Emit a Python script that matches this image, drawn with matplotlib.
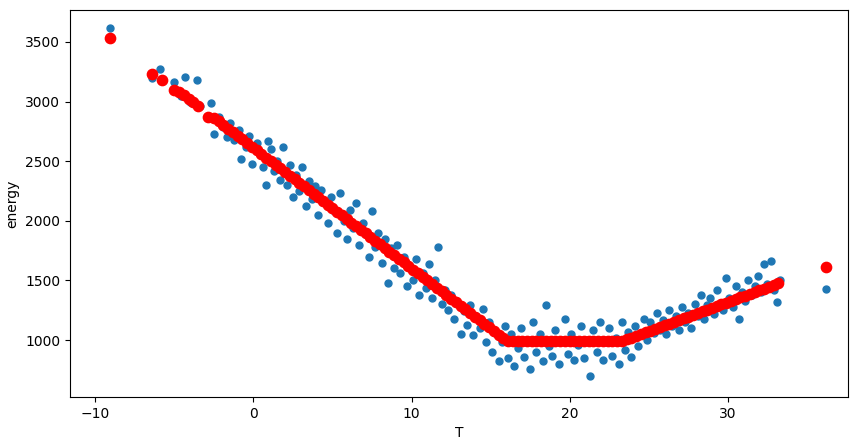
import matplotlib
matplotlib.use("Agg")
import matplotlib.pyplot as plt

blue_T = [-9.1,-6.4,-5.9,-5.8,-5.0,-4.6,-4.3,-4.0,-3.6,-3.4,
-2.7,-2.5,-2.2,-1.9,-1.7,-1.5,-1.2,-0.9,-0.8,-0.5,-0.3,-0.1,0.2,0.4,0.6,0.8,0.9,1.1,1.3,1.5,1.7,1.9,2.1,2.3,2.5,2.7,2.9,3.1,3.3,3.5,3.7,3.9,4.1,4.3,4.5,4.7,4.9,5.1,5.3,5.5,5.7,5.9,6.1,6.3,6.5,6.7,6.9,7.1,7.3,7.5,7.7,7.9,8.1,8.3,8.5,8.7,8.9,9.1,9.3,9.5,9.7,9.9,10.1,10.3,10.5,10.7,10.9,11.1,11.3,11.5,11.7,11.9,12.1,12.3,12.5,12.7,12.9,13.1,13.3,13.5,13.7,13.9,14.1,14.3,14.5,14.7,14.9,15.1,15.3,15.5,15.7,15.9,
16.1,16.3,16.5,16.7,16.9,17.1,17.3,17.5,17.7,17.9,18.1,18.3,18.5,18.7,18.9,19.1,19.3,19.5,19.7,19.9,20.1,20.3,20.5,20.7,20.9,21.1,21.3,21.5,21.7,21.9,22.1,22.3,22.5,22.7,22.9,23.1,23.3,23.5,23.7,23.9,
24.1,24.3,24.5,24.7,24.9,25.1,25.3,25.5,25.7,25.9,26.1,26.3,26.5,26.7,26.9,27.1,27.3,27.5,27.7,27.9,28.1,28.3,28.5,28.7,28.9,29.1,29.3,29.5,29.7,29.9,30.1,30.3,30.5,30.7,30.9,31.1,31.3,31.5,31.7,31.9,32.1,32.3,32.5,32.7,32.9,33.1,33.3,36.2]
blue_E = [3620,3200,3270,3180,3160,3050,3210,3000,3180,2960,
2990,2730,2870,2790,2700,2820,2680,2760,2520,2620,2710,2480,2650,2560,2450,2300,2670,2600,2420,2500,2340,2620,2300,2470,2200,2380,2250,2450,2120,2330,2180,2290,2050,2260,2150,1980,2200,2080,1900,2230,2000,1850,2090,1940,2150,1800,1980,1900,1700,2080,1780,1900,1650,1850,1480,1770,1600,1800,1560,1700,1450,1620,1500,1680,1380,1560,1440,1640,1350,1500,1780,1300,1420,1250,1380,1180,1320,1050,1240,1130,1290,1040,1200,1100,1260,980,1150,900,1060,820,980,1120,
850,1050,780,930,1100,860,1000,760,1150,900,1050,820,1290,950,870,1080,800,1000,1180,880,1050,830,960,1120,850,1000,700,1080,900,1150,830,980,1100,870,1020,800,1150,920,1070,860,
1120,950,1050,1180,1000,1150,1060,1230,1080,1170,1050,1250,1120,1200,1080,1280,1150,1230,1100,1300,1200,1380,1180,1290,1350,1220,1420,1300,1250,1520,1350,1280,1450,1180,1400,1330,1500,1380,1450,1540,1400,1640,1470,1660,1420,1320,1500,1430]

red_T = [-9.1,-6.4,-5.8,-5.0,-4.7,-4.4,-4.1,-3.8,-3.5,-2.9,-2.5,-2.2,-1.9,-1.6,-1.3,-1.0,-0.7,-0.4,-0.1,0.2,0.5,0.8,1.1,1.4,1.7,2.0,2.3,2.6,2.9,3.2,3.5,3.8,4.1,4.4,4.7,5.0,5.3,5.6,5.9,6.2,6.5,6.8,7.1,7.4,7.7,8.0,8.3,8.6,8.9,9.2,9.5,9.8,10.1,10.4,10.7,11.0,11.3,11.6,11.9,12.2,12.5,12.8,13.1,13.4,13.7,14.0,14.3,14.6,14.9,15.2,15.5,15.8,
16.1,16.4,16.7,17.0,17.3,17.6,17.9,18.2,18.5,18.8,19.1,19.4,19.7,20.0,20.3,20.6,20.9,21.2,21.5,21.8,22.1,22.4,22.7,23.0,23.3,
23.6,23.9,24.2,24.5,24.8,25.1,25.4,25.7,26.0,26.3,26.6,26.9,27.2,27.5,27.8,28.1,28.4,28.7,29.0,29.3,29.6,29.9,30.2,30.5,30.8,31.1,31.4,31.7,32.0,32.3,32.6,32.9,33.2,36.2]
red_E = [3530,3230,3180,3100,3080,3055,3025,2995,2965,2870,2864,2833,2803,2773,2742,2712,2682,2651,2621,2591,2560,2530,2500,2470,2439,2409,2379,2348,2318,2288,2257,2227,2197,2166,2136,2106,2076,2045,2015,1985,1954,1924,1894,1863,1833,1803,1772,1742,1712,1682,1651,1621,1591,1560,1530,1500,1469,1439,1409,1378,1348,1318,1288,1257,1227,1197,1166,1136,1106,1075,1045,1015,
990,990,990,990,990,990,990,990,990,990,990,990,990,990,990,990,990,990,990,990,990,990,990,990,990,
1005,1019,1034,1049,1064,1078,1093,1108,1122,1137,1152,1166,1181,1196,1210,1225,1240,1255,1269,1284,1299,1313,1328,1343,1357,1372,1387,1402,1416,1431,1446,1460,1475,1610]

fig = plt.figure(figsize=(8.59, 4.48), dpi=100)
ax = fig.add_axes([70/859, 51/448, 778/859, 387/448])
ax.scatter(blue_T, blue_E, s=25, color="#1f77b4")
ax.scatter(red_T, red_E, s=55, color="red")
ax.set_xlim(-11.6, 37.6)
ax.set_ylim(522, 3768)
ax.set_xlabel("T")
ax.set_ylabel("energy")
fig.savefig("out.png", dpi=100)
